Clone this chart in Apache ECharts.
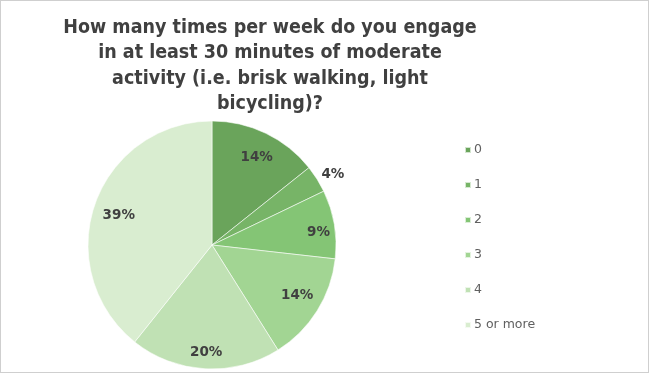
<!DOCTYPE html>
<html>
<head>
<meta charset="utf-8">
<script src="https://cdn.jsdelivr.net/npm/echarts@6/dist/echarts.min.js"></script>
<style>
  html, body { margin: 0; padding: 0; background: #fff; }
  #chart { width: 650px; height: 374px; position: absolute; left: 0; top: 0; }
  #frame { position: absolute; left: 0; top: 0; width: 647px; height: 371px; border: 1px solid #cfcfcf; pointer-events: none; }
</style>
</head>
<body>
<div id="chart"></div>
<div id="frame"></div>
<script>
var titleText = 'How many times per week do you engage\nin at least 30 minutes of moderate\nactivity (i.e. brisk walking, light\nbicycling)?';
var categories = ['0', '1', '2', '3', '4', '5 or more'];
var counts = [8, 2, 5, 8, 11, 22];
var colors = ['#6aa45b', '#77b467', '#84c575', '#a2d593', '#c0e1b4', '#d9edd0'];

var fontFam = '"DejaVu Sans", Verdana, sans-serif';
var titleFam = '"DejaVu Sans Condensed", "DejaVu Sans", sans-serif';
// small style nudges of label text, matching the reference's label placement
var labelNudge = [[0, 5], [0, 0], [5, 5], [-2, -4], [0, 5], [4, 5]];

var labelData = categories.map(function (c, i) {
  return {
    name: c, value: counts[i],
    label: { show: i !== 1, offset: labelNudge[i] }
  };
});
var mainData = categories.map(function (c, i) {
  var d = { name: c, value: counts[i], itemStyle: { color: colors[i] } };
  if (i === 1) {
    d.label = { show: true, position: 'outside', offset: [-4, -2] };
    d.labelLine = { show: false, length: 4, length2: 0 };
  }
  return d;
});

var labelStyle = {
  formatter: '{d}%',
  fontFamily: fontFam,
  fontSize: 13.5,
  fontWeight: 'bold',
  color: '#404040'
};

var chart = echarts.init(document.getElementById('chart'), null, { renderer: 'canvas' });
chart.setOption({
  animation: false,
  backgroundColor: '#ffffff',
  title: {
    text: titleText,
    left: 265,
    top: 10,
    textAlign: 'center',
    textStyle: {
      fontFamily: titleFam,
      fontSize: 19.5,
      fontWeight: 'bold',
      lineHeight: 25.5,
      color: '#404040'
    }
  },
  legend: {
    orient: 'vertical',
    left: 459,
    top: 138,
    itemWidth: 6,
    itemHeight: 6,
    itemGap: 21,
    icon: 'rect',
    data: categories,
    textStyle: {
      fontFamily: fontFam,
      fontSize: 12.5,
      lineHeight: 14,
      color: '#606060',
      padding: [0, 0, 0, -2]
    }
  },
  series: [
    {
      type: 'pie',
      center: [212, 245],
      radius: [0, 124],
      startAngle: 90,
      clockwise: true,
      percentPrecision: 0,
      silent: true,
      itemStyle: { borderColor: 'rgba(255,255,255,0.7)', borderWidth: 0.8 },
      label: Object.assign({ show: false }, labelStyle),
      labelLine: { show: false },
      data: mainData
    },
    {
      type: 'pie',
      center: [212, 245],
      radius: [0, 200],
      startAngle: 90,
      clockwise: true,
      percentPrecision: 0,
      silent: true,
      itemStyle: { color: 'rgba(0,0,0,0)' },
      label: Object.assign({ show: true, position: 'inside' }, labelStyle),
      labelLine: { show: false },
      legendHoverLink: false,
      data: labelData
    }
  ]
});
</script>
</body>
</html>
